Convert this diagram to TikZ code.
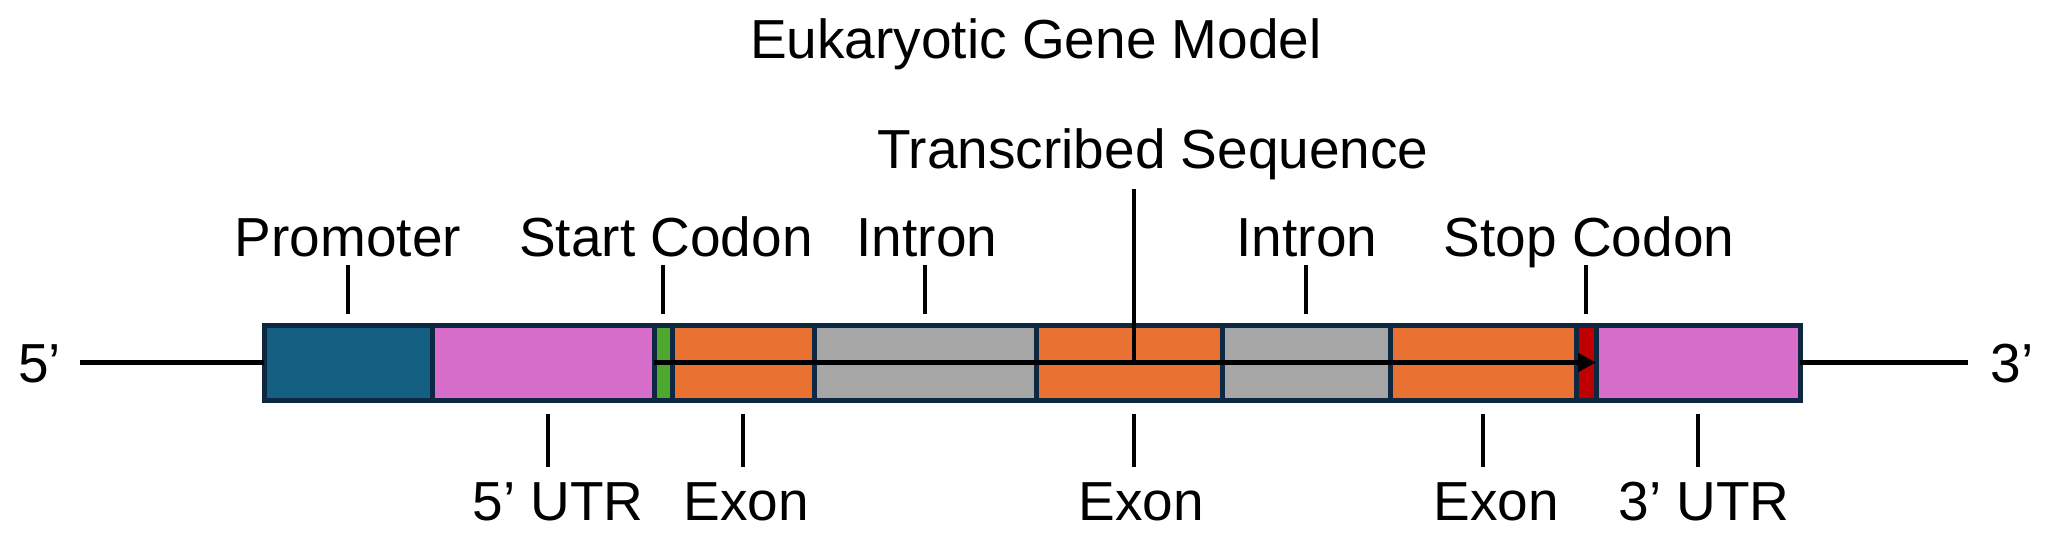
\documentclass[tikz,border=0pt]{standalone}
\usepackage{fontspec}
\setmainfont{Liberation Sans}
\usetikzlibrary{arrows.meta}
\definecolor{promc}{HTML}{156082}
\definecolor{utrc}{HTML}{D86ECC}
\definecolor{startc}{HTML}{4EA72E}
\definecolor{exonc}{HTML}{E97132}
\definecolor{intronc}{HTML}{A6A6A6}
\definecolor{stopc}{HTML}{C00000}
\definecolor{borderc}{HTML}{0E2841}
\tikzset{
  seg/.style={draw=borderc, line width=2.5pt, inner sep=0pt, outer sep=0pt, minimum height=37.5pt},
  lbl/.style={inner sep=0pt, anchor=base, font=\fontsize{27.5pt}{33pt}\selectfont},
  tick/.style={line width=1.7pt, black},
  dna/.style={line width=2.2pt, black},
  tline/.style={line width=2.3pt, black, -{Triangle[length=9pt,width=9pt]}}
}
\begin{document}
\begin{tikzpicture}[x=0.5pt,y=-0.5pt]
\useasboundingbox (0,0) rectangle (2051,553);
% title
\node[lbl] (title) at (1036,58) {Eukaryotic Gene Model};
% ends
\node[lbl, anchor=base west] (five) at (18,382) {5’};
\node[lbl, anchor=base west] (three) at (1990,382) {3’};
% segments
\node[seg, fill=promc,   minimum width=84pt] (prom)  at (348,362.5) {};
\node[seg, fill=utrc,    minimum width=111pt] (utr5) at (543,362.5) {};
\node[seg, fill=startc,  minimum width=9pt] (start)  at (663,362.5) {};
\node[seg, fill=exonc,   minimum width=71pt] (ex1)   at (743,362.5) {};
\node[seg, fill=intronc, minimum width=111pt] (in1)  at (925,362.5) {};
\node[seg, fill=exonc,   minimum width=93pt] (ex2)   at (1129,362.5) {};
\node[seg, fill=intronc, minimum width=84pt] (in2)   at (1306,362.5) {};
\node[seg, fill=exonc,   minimum width=93pt] (ex3)   at (1483,362.5) {};
\node[seg, fill=stopc,   minimum width=10pt] (stop)  at (1586,362.5) {};
\node[seg, fill=utrc,    minimum width=102pt] (utr3) at (1698,362.5) {};
% DNA lines
\coordinate (fiveend) at (80,362.5);
\coordinate (threeend) at (1968,362.5);
\draw[dna] (fiveend) -- (prom.west);
\draw[dna] (utr3.east) -- (threeend);
% transcribed arrow
\draw[tline] (start.west) -- (utr3.west);
% top labels
\node[lbl] (lprom)  at (348,256) {Promoter};
\node[lbl] (lstart) at (666,256) {Start Codon};
\node[lbl] (lin1)   at (927,256) {Intron};
\node[lbl] (lin2)   at (1307,256) {Intron};
\node[lbl] (lstop)  at (1589,256) {Stop Codon};
\node[lbl] (ltrans) at (1153,168) {Transcribed Sequence};
% bottom labels
\node[lbl] (lutr5) at (558,520) {5’ UTR};
\node[lbl] (lex1)  at (746,520) {Exon};
\node[lbl] (lex2)  at (1141,520) {Exon};
\node[lbl] (lex3)  at (1496,520) {Exon};
\node[lbl] (lutr3) at (1704,520) {3’ UTR};
% top ticks
\draw[tick] ([yshift=5.5pt]prom.north) -- ++(0,-49);
\draw[tick] ([yshift=5.5pt]start.north) -- ++(0,-49);
\draw[tick] ([yshift=5.5pt]in1.north) -- ++(0,-49);
\draw[tick] ([yshift=5.5pt]in2.north) -- ++(0,-49);
\draw[tick] ([yshift=5.5pt]stop.north) -- ++(0,-49);
\draw[tick] ([xshift=2.5pt]ex2.center) -- ++(0,-174);
% bottom ticks
\draw[tick] ([xshift=2.5pt,yshift=-7pt]utr5.south) -- ++(0,53);
\draw[tick] ([yshift=-7pt]ex1.south) -- ++(0,53);
\draw[tick] ([xshift=2.5pt,yshift=-7pt]ex2.south) -- ++(0,53);
\draw[tick] ([yshift=-7pt]ex3.south) -- ++(0,53);
\draw[tick] ([yshift=-7pt]utr3.south) -- ++(0,53);
\end{tikzpicture}
\end{document}
